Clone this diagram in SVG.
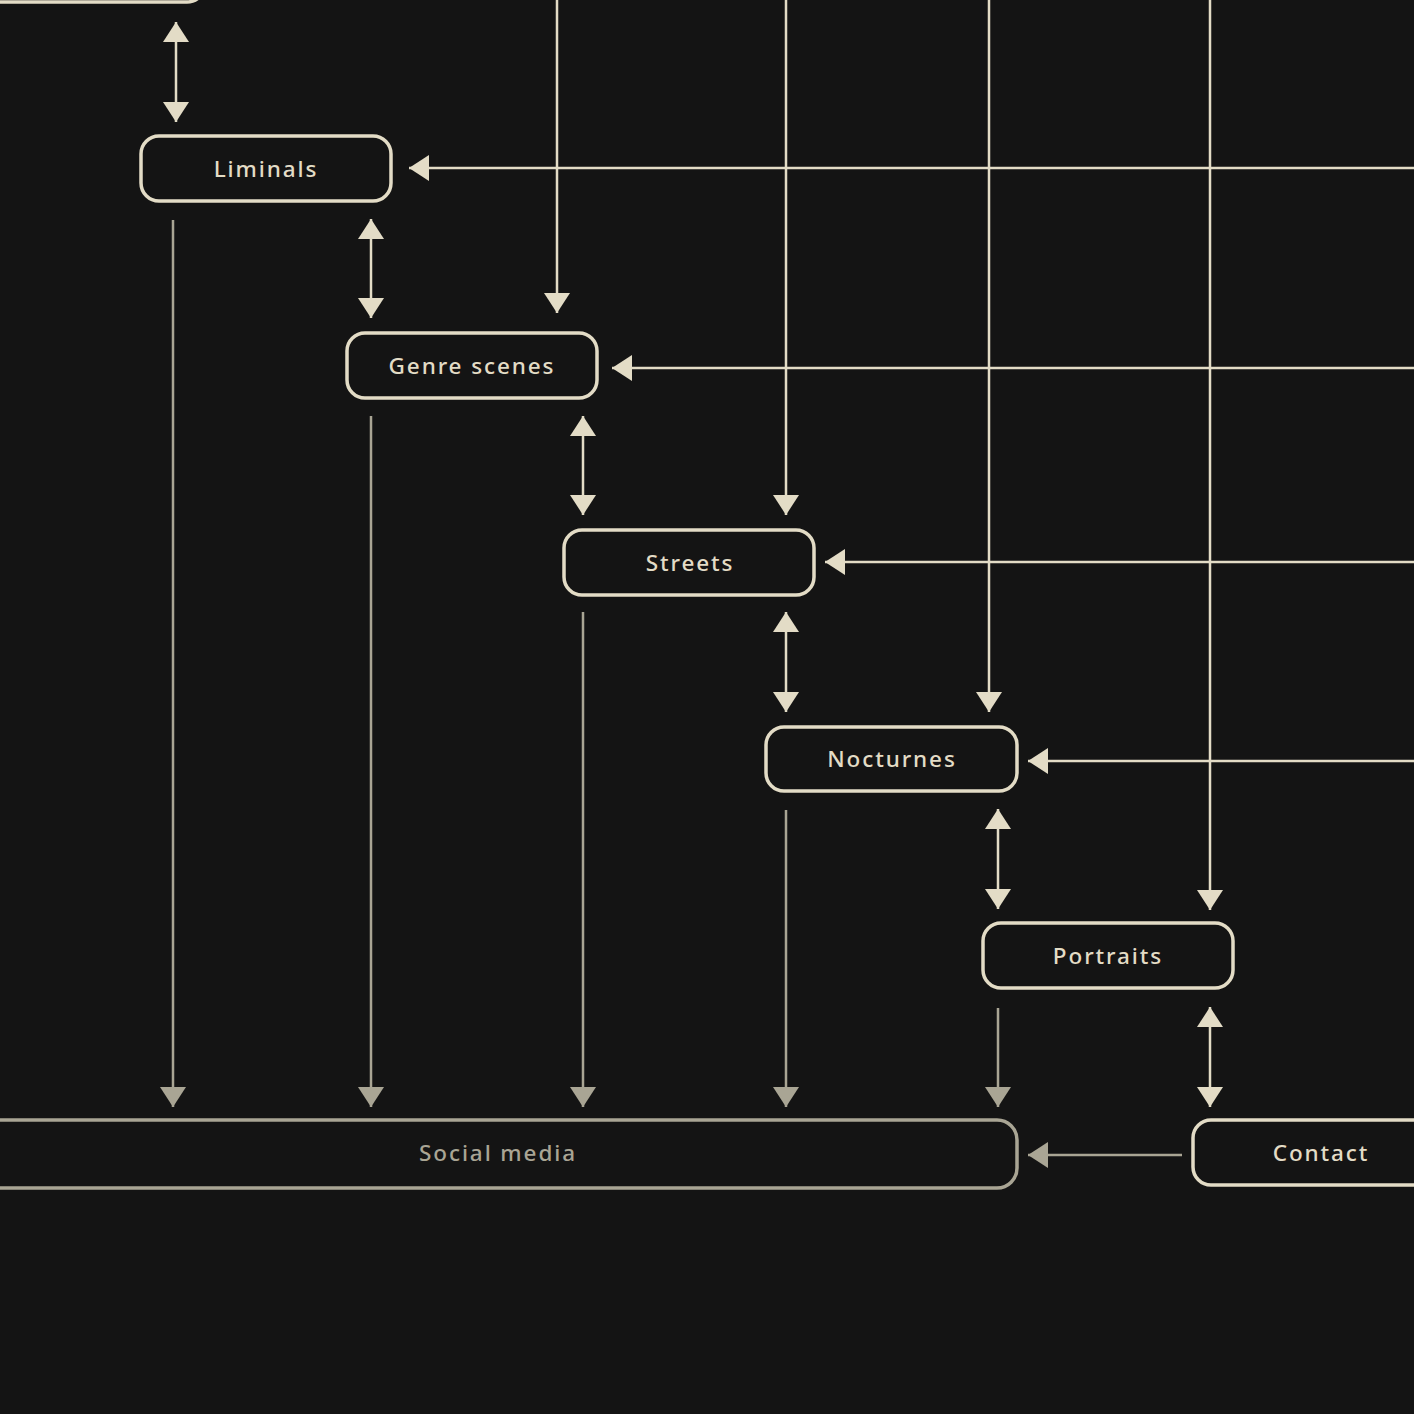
<svg xmlns="http://www.w3.org/2000/svg" width="1414" height="1414" viewBox="0 0 1414 1414">
<style>
.bg{fill:#141414}
.node{fill:#141414;stroke:#e3dcc6;stroke-width:3.5}
.node.gray{stroke:#a9a594}
.lbl{font-family:"Noto Sans","Liberation Sans",sans-serif;font-size:22.5px;font-weight:500;letter-spacing:1.9px;fill:#e3dcc6;text-anchor:middle;dominant-baseline:central}
.lbl.gray{fill:#a9a594}
.c{fill:none;stroke:#e3dcc6;stroke-width:2.5}
.g{fill:none;stroke:#a9a594;stroke-width:2.5}
</style>
<defs>
<marker id="ac" viewBox="0 0 20 26" refX="20" refY="13" markerWidth="20" markerHeight="26" markerUnits="userSpaceOnUse" orient="auto-start-reverse"><path d="M0,0 L20,13 L0,26 Z" fill="#e3dcc6"/></marker>
<marker id="ag" viewBox="0 0 20 26" refX="20" refY="13" markerWidth="20" markerHeight="26" markerUnits="userSpaceOnUse" orient="auto-start-reverse"><path d="M0,0 L20,13 L0,26 Z" fill="#a9a594"/></marker>
</defs>
<rect class="bg" width="1414" height="1414"/>
<g id="connectors">
<path class="c" d="M557,-5 V313" marker-end="url(#ac)"/>
<path class="c" d="M786,-5 V515" marker-end="url(#ac)"/>
<path class="c" d="M989,-5 V712" marker-end="url(#ac)"/>
<path class="c" d="M1210,-5 V910" marker-end="url(#ac)"/>
<path class="c" d="M1420,168 H409" marker-end="url(#ac)"/>
<path class="c" d="M1420,368 H612" marker-end="url(#ac)"/>
<path class="c" d="M1420,562 H825" marker-end="url(#ac)"/>
<path class="c" d="M1420,761 H1028" marker-end="url(#ac)"/>
<path class="c" d="M176,22 V122" marker-start="url(#ac)" marker-end="url(#ac)"/>
<path class="c" d="M371,219 V318" marker-start="url(#ac)" marker-end="url(#ac)"/>
<path class="c" d="M583,416 V515" marker-start="url(#ac)" marker-end="url(#ac)"/>
<path class="c" d="M786,612 V712" marker-start="url(#ac)" marker-end="url(#ac)"/>
<path class="c" d="M998,809 V909" marker-start="url(#ac)" marker-end="url(#ac)"/>
<path class="c" d="M1210,1007 V1107" marker-start="url(#ac)" marker-end="url(#ac)"/>
<path class="g" d="M173,220 V1107" marker-end="url(#ag)"/>
<path class="g" d="M371,416 V1107" marker-end="url(#ag)"/>
<path class="g" d="M583,612 V1107" marker-end="url(#ag)"/>
<path class="g" d="M786,810 V1107" marker-end="url(#ag)"/>
<path class="g" d="M998,1008 V1107" marker-end="url(#ag)"/>
<path class="g" d="M1182,1155 H1028" marker-end="url(#ag)"/>
</g>
<g id="node-top">
<rect class="node" x="-100" y="-66" width="305" height="68" rx="18"/>
</g>
<g id="node-liminals">
<rect class="node" x="141" y="136" width="250" height="65" rx="18"/>
<text class="lbl" x="266" y="168">Liminals</text>
</g>
<g id="node-genre">
<rect class="node" x="347" y="333" width="250" height="65" rx="18"/>
<text class="lbl" x="472" y="365">Genre scenes</text>
</g>
<g id="node-streets">
<rect class="node" x="564" y="530" width="250" height="65" rx="18"/>
<text class="lbl" x="690" y="562">Streets</text>
</g>
<g id="node-nocturnes">
<rect class="node" x="766" y="727" width="251" height="64" rx="18"/>
<text class="lbl" x="892" y="758">Nocturnes</text>
</g>
<g id="node-portraits">
<rect class="node" x="983" y="923" width="250" height="65" rx="18"/>
<text class="lbl" x="1108" y="955">Portraits</text>
</g>
<g id="node-social">
<rect class="node gray" x="-40" y="1120" width="1057" height="68" rx="20"/>
<text class="lbl gray" x="498" y="1152">Social media</text>
</g>
<g id="node-contact">
<rect class="node" x="1193" y="1120" width="260" height="65" rx="18"/>
<text class="lbl" x="1321" y="1152">Contact</text>
</g>
</svg>
